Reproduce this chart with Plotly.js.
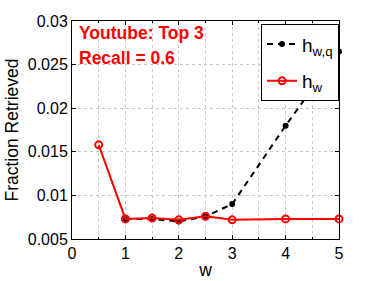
<!DOCTYPE html>
<html><head><meta charset="utf-8">
<script src="https://cdn.plot.ly/plotly-3.0.1.min.js"></script>
<style>html,body{margin:0;padding:0;background:#fff}</style>
</head><body><div id="c" style="width:374px;height:281px"></div>
<script>
const wQ = [1, 1.5, 2, 2.5, 3, 4, 5];
const hwq = [0.0073, 0.0073, 0.0070, 0.0076, 0.0090, 0.0180, 0.0265];
const wR = [0.5, 1, 1.5, 2, 2.5, 3, 4, 5];
const hw = [0.0158, 0.0073, 0.0074, 0.0072, 0.0076, 0.0072, 0.0073, 0.0073];
const xTicks = [0, 1, 2, 3, 4, 5];
const yTicks = [0.005, 0.01, 0.015, 0.02, 0.025, 0.03];
const yTickText = ['0.005', '0.01', '0.015', '0.02', '0.025', '0.03'];

const font = 'Liberation Sans, Arial, sans-serif';
const data = [
  {x: wQ, y: hwq, name: 'h<sub>w,q</sub>', legendgroup: 'a', mode: 'lines+markers', cliponaxis: false,
   line: {color: 'black', width: 2, dash: '6px,5px'}, marker: {color: 'black', size: 6, symbol: 'circle'}},
  {x: wR, y: hw, name: 'h<sub>w</sub>', legendgroup: 'b', mode: 'lines+markers', cliponaxis: false,
   line: {color: '#ff0000', width: 2}, marker: {color: '#ff0000', size: 7, symbol: 'circle-open', line: {color: '#ff0000', width: 2}}}
];
const layout = {
  width: 374, height: 281,
  margin: {l: 72, r: 35, t: 21, b: 42},
  paper_bgcolor: 'white', plot_bgcolor: 'white',
  font: {family: font, size: 16, color: 'black'},
  showlegend: true,
  legend: {x: 1, xanchor: 'right', y: 0.985, yanchor: 'top', bordercolor: 'black', borderwidth: 1,
           bgcolor: 'white', font: {size: 19, family: font}, itemwidth: 30, tracegroupgap: 9},
  xaxis: {range: [0, 5], tickvals: xTicks, ticktext: xTicks.map(String),
          showline: true, mirror: 'ticks', linecolor: 'black', linewidth: 1,
          ticks: 'inside', ticklen: 4, tickcolor: 'black',
          showgrid: true, gridcolor: '#c8c8c8', griddash: 'dot', gridwidth: 1,
          minor: {dtick: 0.5, showgrid: true, gridcolor: '#c8c8c8', griddash: 'dot', ticks: 'inside', ticklen: 2, tickcolor: 'black'},
          zeroline: false, tickfont: {size: 16},
          title: {text: 'w', font: {size: 17.5}, standoff: 2}},
  yaxis: {range: [0.005, 0.03], tickvals: yTicks, ticktext: yTickText,
          showline: true, mirror: 'ticks', linecolor: 'black', linewidth: 1,
          ticks: 'inside', ticklen: 4, tickcolor: 'black',
          showgrid: true, gridcolor: '#c8c8c8', griddash: 'dot', gridwidth: 1,
          zeroline: false, tickfont: {size: 16},
          title: {text: 'Fraction Retrieved', font: {size: 17.5}, standoff: 4}},
  annotations: [
    {xref: 'paper', yref: 'paper', x: 0.017, y: 1.0, xanchor: 'left', yanchor: 'top', showarrow: false, align: 'left',
     text: '<b>Youtube: Top 3</b>', font: {color: '#ff0000', size: 17.5, family: font}},
    {xref: 'paper', yref: 'paper', x: 0.017, y: 0.885, xanchor: 'left', yanchor: 'top', showarrow: false, align: 'left',
     text: '<b>Recall = 0.6</b>', font: {color: '#ff0000', size: 17.5, family: font}}
  ]
};
Plotly.newPlot('c', data, layout, {displayModeBar: false, staticPlot: true});
</script></body></html>
